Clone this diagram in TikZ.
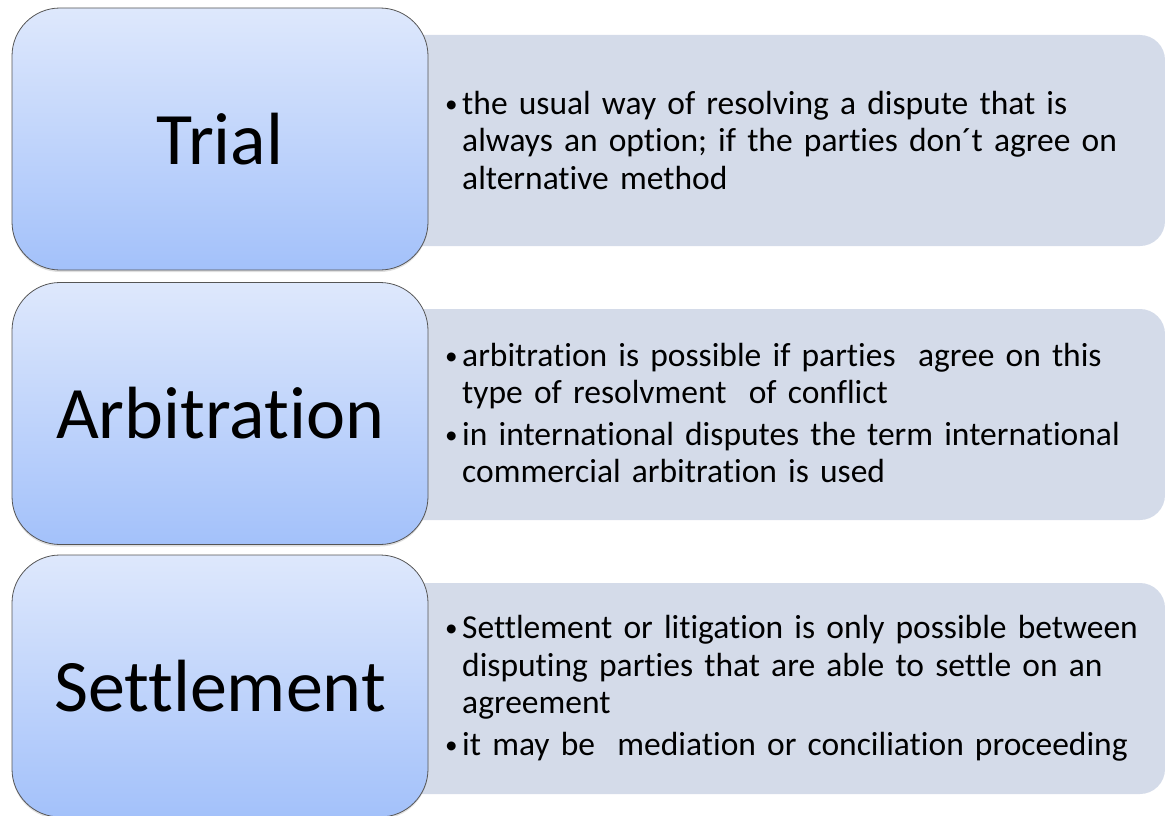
\documentclass[tikz,border=0pt]{standalone}
\usepackage{fontspec}
\setmainfont{Carlito}[Ligatures=NoCommon]
\usepackage{xcolor}
\usetikzlibrary{shadows}
\definecolor{boxtop}{RGB}{222,232,252}
\definecolor{boxbot}{RGB}{163,193,250}
\definecolor{boxline}{RGB}{85,85,85}
\definecolor{panel}{RGB}{212,219,233}
\newcommand{\bul}[1]{\hangindent=17pt\hangafter=1\noindent\makebox[17pt][l]{\raisebox{2pt}{\scalebox{0.75}{\textbullet}}}#1\par}
\tikzset{
  head/.style={rounded corners=48pt, minimum width=416pt, minimum height=262pt, top color=boxtop, bottom color=boxbot, draw=boxline, line width=0.8pt, drop shadow={opacity=0.25, shadow xshift=0pt, shadow yshift=-2pt}, font=\fontsize{74}{86}\selectfont},
  panelbox/.style={rounded corners=25pt, minimum width=785pt, minimum height=211pt, fill=panel},
  items/.style={anchor=west, text width=715pt, align=left, inner sep=0pt, font=\fontsize{33.5}{37.5}\selectfont}
}
\begin{document}
\begin{tikzpicture}[x=1pt,y=-1pt]
\useasboundingbox (0,0) rectangle (1165,816);
%\draw[step=50,gray,very thin] (0,0) grid (1165,816); %background grid
\node[panelbox] (p1) at (772.5,140.5) {}; %gray panels
\node[panelbox] (p2) at (772.5,414.5) {};
\node[panelbox] (p3) at (772.5,688.5) {};
\node[head] (trial) at (220,139) {Trial}; %blue boxes
\node[head] (arb) at (220,413.5) {Arbitration};
\node[head] (settle) at (220,686) {Settlement};
\node[items] (t1) at (445,140) {\setlength{\parskip}{4pt}%
\bul{the usual way of resolving a dispute that is\newline always an option; if the parties don´t agree on\newline alternative method}};
\node[items] (t2) at (445,413) {\setlength{\parskip}{4pt}%
\bul{arbitration is possible if parties\ \ agree on this\newline type of resolvment\ \ of conflict}
\bul{in international disputes the term international\newline commercial arbitration is used}};
\node[items] (t3) at (445,688) {\setlength{\parskip}{4pt}%
\bul{Settlement or litigation is only possible between\newline disputing parties that are able to settle on an\newline agreement}
\bul{it may be\ \ mediation or conciliation proceeding}};
\end{tikzpicture}
\end{document}
